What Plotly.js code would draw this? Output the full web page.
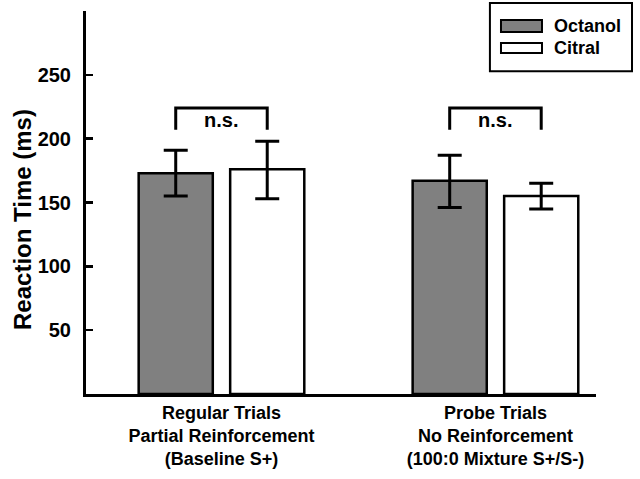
<!DOCTYPE html>
<html>
<head>
<meta charset="utf-8">
<script src="https://cdn.plot.ly/plotly-3.0.1.min.js"></script>
<style>html,body{margin:0;padding:0;background:#fff;} #chart{width:640px;height:479px;}</style>
</head>
<body>
<div id="chart"></div>
<script>
// ---- data ----
var categories = ["Regular Trials<br>Partial Reinforcement<br>(Baseline S+)",
                  "Probe Trials<br>No Reinforcement<br>(100:0 Mixture S+/S-)"];
var seriesNames = ["Octanol", "Citral"];
var octanolMean = [173, 167];
var octanolErrPlus = [18, 20];
var octanolErrMinus = [18, 21];
var citralMean = [176, 155];
var citralErrPlus = [22, 10];
var citralErrMinus = [23, 10];
var bracketTop = [224, 224];
var bracketBottom = [207, 207];
var sigLabels = ["n.s.", "n.s."];
var yTickVals = [0, 50, 100, 150, 200, 250, 300];
var yTickText = ["", "50", "100", "150", "200", "250", ""];

var FONT = "Liberation Sans, Arial, sans-serif";
var xpos = categories.map(function(_, i){ return i; });
var half = 0.167; // half distance between bar centers within a group

var traces = [
  {type: "bar", name: seriesNames[0], x: xpos, y: octanolMean,
   marker: {color: "#808080", line: {color: "#000", width: 2.5}},
   error_y: {type: "data", symmetric: false, array: octanolErrPlus, arrayminus: octanolErrMinus,
             color: "#000", thickness: 3, width: 12},
   showlegend: false, hoverinfo: "skip"},
  {type: "bar", name: seriesNames[1], x: xpos, y: citralMean,
   marker: {color: "#ffffff", line: {color: "#000", width: 2.5}},
   error_y: {type: "data", symmetric: false, array: citralErrPlus, arrayminus: citralErrMinus,
             color: "#000", thickness: 3, width: 12},
   showlegend: false, hoverinfo: "skip"}
];

// significance brackets
var shapes = [];
var annotations = [];
xpos.forEach(function(x, i){
  var l = x - half, r = x + half;
  traces.push({type: "scatter", mode: "lines", x: [l, l, r, r],
    y: [bracketBottom[i], bracketTop[i], bracketTop[i], bracketBottom[i]],
    line: {color: "#000", width: 3}, showlegend: false, hoverinfo: "skip", cliponaxis: false});
  annotations.push({x: x, y: (bracketTop[i] + bracketBottom[i]) / 2 - 1, xref: "x", yref: "y",
    text: "<b>" + sigLabels[i] + "</b>", showarrow: false,
    font: {family: FONT, size: 20, color: "#000"}});
});

// custom legend (wide swatches)
shapes.push({type: "rect", xref: "paper", yref: "paper", x0: 0.792, x1: 1.0706, y0: 0.843, y1: 1.021,
  line: {color: "#000", width: 2}, fillcolor: "#fff", layer: "above"});
var swatch = [{y0: 0.945, y1: 0.9765, fill: "#808080"}, {y0: 0.8903, y1: 0.9164, fill: "#ffffff"}];
swatch.forEach(function(s, i){
  shapes.push({type: "rect", xref: "paper", yref: "paper", x0: 0.8137, x1: 0.8941, y0: s.y0, y1: s.y1,
    line: {color: "#000", width: 2}, fillcolor: s.fill, layer: "above"});
  annotations.push({xref: "paper", yref: "paper", x: 0.9137, y: (s.y0 + s.y1) / 2, xanchor: "left",
    yanchor: "middle", text: "<b>" + seriesNames[i] + "</b>", showarrow: false,
    font: {family: FONT, size: 18, color: "#000"}});
});

// y-axis title
annotations.push({xref: "paper", yref: "paper", x: -0.125, y: 0.455, xanchor: "center", yanchor: "middle",
  text: "<b>Reaction Time (ms)</b>", textangle: -90, showarrow: false,
  font: {family: FONT, size: 24, color: "#000"}});

var layout = {
  width: 640, height: 479,
  margin: {l: 86, r: 44, t: 11, b: 85},
  paper_bgcolor: "#fff", plot_bgcolor: "#fff",
  barmode: "group", bargap: 0.332, bargroupgap: 0.19,
  showlegend: false,
  font: {family: FONT, color: "#000"},
  xaxis: {range: [-0.4945, 1.367], tickvals: xpos, ticktext: categories.map(function(c){ return "<b>" + c + "</b>"; }),
          showline: true, linecolor: "#000", linewidth: 3, ticks: "", showgrid: false, zeroline: false,
          tickfont: {family: FONT, size: 18, color: "#000"}, fixedrange: true},
  yaxis: {range: [0, 300], tickvals: yTickVals, ticktext: yTickText.map(function(t){ return t ? "<b>" + t + "</b>" : ""; }),
          showline: true, linecolor: "#000", linewidth: 3, ticks: "inside", ticklen: 7, tickwidth: 2.5,
          tickcolor: "#000", showgrid: false, zeroline: false, ticklabelstandoff: 8,
          tickfont: {family: FONT, size: 20, color: "#000"}, fixedrange: true},
  shapes: shapes,
  annotations: annotations
};

Plotly.newPlot("chart", traces, layout, {displayModeBar: false, staticPlot: true});
</script>
</body>
</html>
